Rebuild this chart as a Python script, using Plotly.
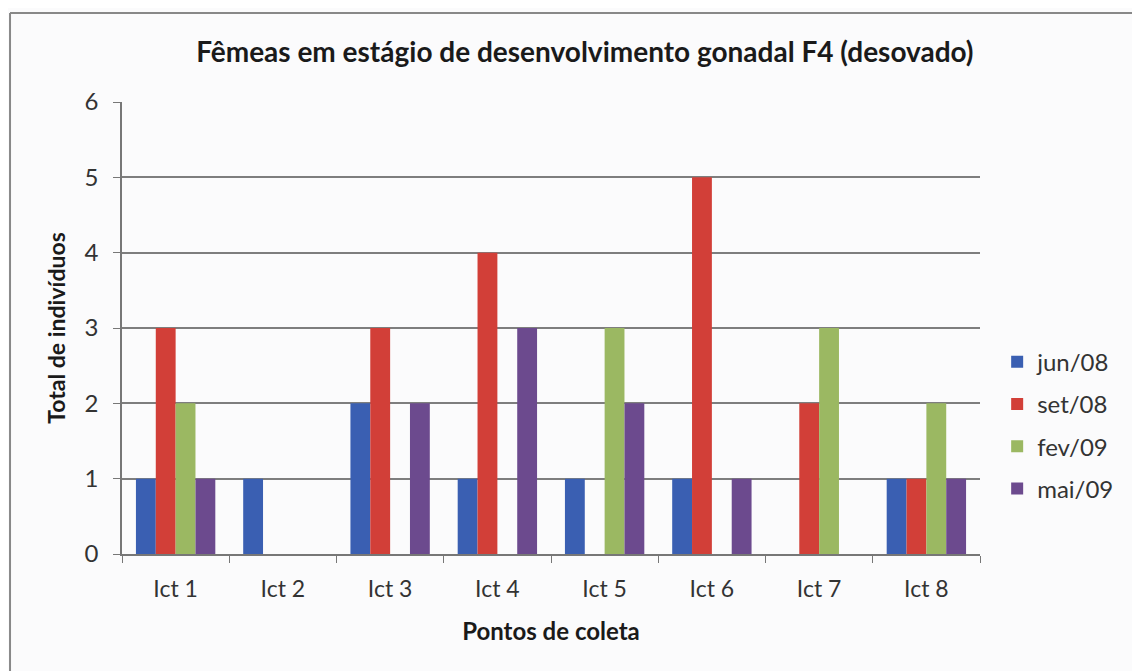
import plotly.graph_objects as go

categories = ["Ict 1", "Ict 2", "Ict 3", "Ict 4", "Ict 5", "Ict 6", "Ict 7", "Ict 8"]
jun08 = [1, 1, 2, 1, 1, 1, 0, 1]
set08 = [3, 0, 3, 4, 0, 5, 2, 1]
fev09 = [2, 0, 0, 0, 3, 0, 3, 2]
mai09 = [1, 0, 2, 3, 2, 1, 0, 1]
series_names = ["jun/08", "set/08", "fev/09", "mai/09"]
colors = ["#3a5fb2", "#d23f38", "#9bb862", "#6c4a8e"]
y_ticks = [0, 1, 2, 3, 4, 5, 6]

font_family = "Lato, 'Open Sans', sans-serif"

fig = go.Figure()
for name, vals, col in zip(series_names, [jun08, set08, fev09, mai09], colors):
    fig.add_trace(go.Bar(x=categories, y=vals, name=name, marker_color=col,
                         marker_line_width=0, legendgroup=name))

fig.update_layout(
    width=1140, height=671,
    paper_bgcolor="#fbfbfc", plot_bgcolor="rgba(0,0,0,0)",
    margin=dict(l=114, r=168, t=94, b=125),
    barmode="group", bargap=0.26, bargroupgap=0,
    title=dict(text="<b>Fêmeas em estágio de desenvolvimento gonadal F4 (desovado)</b>",
               x=0.506, xanchor="center", xref="container",
               y=0.934, yanchor="middle", yref="container",
               font=dict(family=font_family, size=28, color="#1a1a1a")),
    font=dict(family=font_family, color="#333333"),
    legend=dict(x=1.02, y=0.285, xanchor="left", yanchor="middle",
                font=dict(size=24, color="#333333"), tracegroupgap=8,
                itemsizing="constant", itemwidth=30, bgcolor="rgba(0,0,0,0)"),
    showlegend=True,
)
fig.update_xaxes(
    type="category", showline=True, linecolor="#777777", linewidth=1.5,
    ticks="outside", tickson="boundaries", ticklen=7, tickcolor="#777777",
    ticklabelstandoff=14,
    tickfont=dict(size=23, color="#333333"),
    title=dict(text="<b>Pontos de coleta</b>", font=dict(size=24, color="#1a1a1a"), standoff=22),
    showgrid=False,
)
fig.update_yaxes(
    range=[0, 6], tickvals=y_ticks, showline=True, linecolor="#777777", linewidth=1.5,
    ticks="outside", ticklen=7, tickcolor="#777777",
    ticklabelstandoff=10,
    tickfont=dict(size=24, color="#333333"),
    showgrid=True, gridcolor="#7e7e7e", gridwidth=1.5, zeroline=False,
    title=dict(text="<b>Total de indivíduos</b>", font=dict(size=23, color="#1a1a1a"), standoff=12),
)
fig.add_shape(type="line", xref="paper", yref="paper", x0=-0.1305, x1=1.25, y0=1.197, y1=1.197,
              line=dict(color="#888888", width=2))
fig.add_shape(type="line", xref="paper", yref="paper", x0=-0.1305, x1=-0.1305, y0=1.197, y1=-0.3,
              line=dict(color="#888888", width=2))
fig.write_html("out.html")
